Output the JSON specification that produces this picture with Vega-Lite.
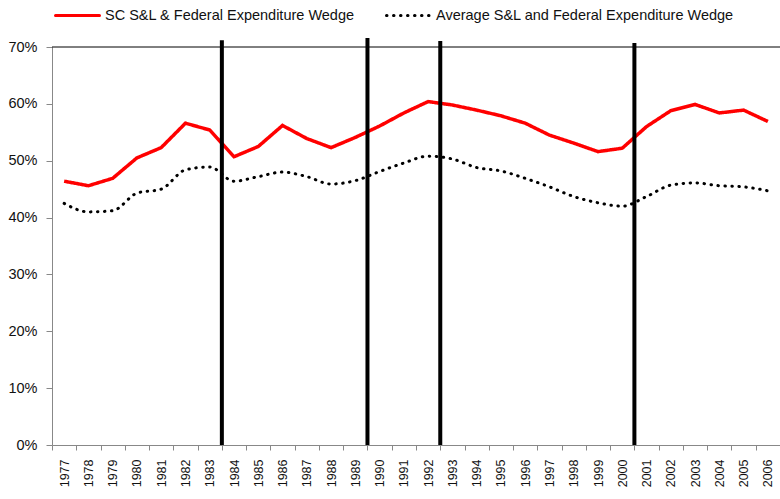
{
  "$schema": "https://vega.github.io/schema/vega-lite/v6.json",
  "width": 728,
  "height": 398,
  "autosize": {"type": "none"},
  "padding": {"left": 52, "top": 47, "right": 0, "bottom": 52},
  "background": "white",
  "config": {"view": {"stroke": null}, "font": "Liberation Sans"},
  "datasets": {
    "series": [
      {"year": "1977", "series": "SC S&L & Federal Expenditure Wedge", "value": 0.464},
      {"year": "1978", "series": "SC S&L & Federal Expenditure Wedge", "value": 0.456},
      {"year": "1979", "series": "SC S&L & Federal Expenditure Wedge", "value": 0.469},
      {"year": "1980", "series": "SC S&L & Federal Expenditure Wedge", "value": 0.505},
      {"year": "1981", "series": "SC S&L & Federal Expenditure Wedge", "value": 0.523},
      {"year": "1982", "series": "SC S&L & Federal Expenditure Wedge", "value": 0.566},
      {"year": "1983", "series": "SC S&L & Federal Expenditure Wedge", "value": 0.554},
      {"year": "1984", "series": "SC S&L & Federal Expenditure Wedge", "value": 0.507},
      {"year": "1985", "series": "SC S&L & Federal Expenditure Wedge", "value": 0.525},
      {"year": "1986", "series": "SC S&L & Federal Expenditure Wedge", "value": 0.562},
      {"year": "1987", "series": "SC S&L & Federal Expenditure Wedge", "value": 0.539},
      {"year": "1988", "series": "SC S&L & Federal Expenditure Wedge", "value": 0.523},
      {"year": "1989", "series": "SC S&L & Federal Expenditure Wedge", "value": 0.541},
      {"year": "1990", "series": "SC S&L & Federal Expenditure Wedge", "value": 0.561},
      {"year": "1991", "series": "SC S&L & Federal Expenditure Wedge", "value": 0.584},
      {"year": "1992", "series": "SC S&L & Federal Expenditure Wedge", "value": 0.604},
      {"year": "1993", "series": "SC S&L & Federal Expenditure Wedge", "value": 0.598},
      {"year": "1994", "series": "SC S&L & Federal Expenditure Wedge", "value": 0.589},
      {"year": "1995", "series": "SC S&L & Federal Expenditure Wedge", "value": 0.579},
      {"year": "1996", "series": "SC S&L & Federal Expenditure Wedge", "value": 0.566},
      {"year": "1997", "series": "SC S&L & Federal Expenditure Wedge", "value": 0.545},
      {"year": "1998", "series": "SC S&L & Federal Expenditure Wedge", "value": 0.531},
      {"year": "1999", "series": "SC S&L & Federal Expenditure Wedge", "value": 0.516},
      {"year": "2000", "series": "SC S&L & Federal Expenditure Wedge", "value": 0.522},
      {"year": "2001", "series": "SC S&L & Federal Expenditure Wedge", "value": 0.560},
      {"year": "2002", "series": "SC S&L & Federal Expenditure Wedge", "value": 0.588},
      {"year": "2003", "series": "SC S&L & Federal Expenditure Wedge", "value": 0.599},
      {"year": "2004", "series": "SC S&L & Federal Expenditure Wedge", "value": 0.584},
      {"year": "2005", "series": "SC S&L & Federal Expenditure Wedge", "value": 0.589},
      {"year": "2006", "series": "SC S&L & Federal Expenditure Wedge", "value": 0.569},
      {"year": "1977", "series": "Average S&L and Federal Expenditure Wedge", "value": 0.425},
      {"year": "1978", "series": "Average S&L and Federal Expenditure Wedge", "value": 0.410},
      {"year": "1979", "series": "Average S&L and Federal Expenditure Wedge", "value": 0.412},
      {"year": "1980", "series": "Average S&L and Federal Expenditure Wedge", "value": 0.443},
      {"year": "1981", "series": "Average S&L and Federal Expenditure Wedge", "value": 0.450},
      {"year": "1982", "series": "Average S&L and Federal Expenditure Wedge", "value": 0.484},
      {"year": "1983", "series": "Average S&L and Federal Expenditure Wedge", "value": 0.489},
      {"year": "1984", "series": "Average S&L and Federal Expenditure Wedge", "value": 0.464},
      {"year": "1985", "series": "Average S&L and Federal Expenditure Wedge", "value": 0.472},
      {"year": "1986", "series": "Average S&L and Federal Expenditure Wedge", "value": 0.480},
      {"year": "1987", "series": "Average S&L and Federal Expenditure Wedge", "value": 0.472},
      {"year": "1988", "series": "Average S&L and Federal Expenditure Wedge", "value": 0.459},
      {"year": "1989", "series": "Average S&L and Federal Expenditure Wedge", "value": 0.465},
      {"year": "1990", "series": "Average S&L and Federal Expenditure Wedge", "value": 0.481},
      {"year": "1991", "series": "Average S&L and Federal Expenditure Wedge", "value": 0.496},
      {"year": "1992", "series": "Average S&L and Federal Expenditure Wedge", "value": 0.508},
      {"year": "1993", "series": "Average S&L and Federal Expenditure Wedge", "value": 0.503},
      {"year": "1994", "series": "Average S&L and Federal Expenditure Wedge", "value": 0.488},
      {"year": "1995", "series": "Average S&L and Federal Expenditure Wedge", "value": 0.482},
      {"year": "1996", "series": "Average S&L and Federal Expenditure Wedge", "value": 0.469},
      {"year": "1997", "series": "Average S&L and Federal Expenditure Wedge", "value": 0.454},
      {"year": "1998", "series": "Average S&L and Federal Expenditure Wedge", "value": 0.437},
      {"year": "1999", "series": "Average S&L and Federal Expenditure Wedge", "value": 0.426},
      {"year": "2000", "series": "Average S&L and Federal Expenditure Wedge", "value": 0.420},
      {"year": "2001", "series": "Average S&L and Federal Expenditure Wedge", "value": 0.437},
      {"year": "2002", "series": "Average S&L and Federal Expenditure Wedge", "value": 0.457},
      {"year": "2003", "series": "Average S&L and Federal Expenditure Wedge", "value": 0.461},
      {"year": "2004", "series": "Average S&L and Federal Expenditure Wedge", "value": 0.456},
      {"year": "2005", "series": "Average S&L and Federal Expenditure Wedge", "value": 0.454},
      {"year": "2006", "series": "Average S&L and Federal Expenditure Wedge", "value": 0.447}
    ],
    "breaks": [
      {"year": "1984", "top": 0.712},
      {"year": "1990", "top": 0.716},
      {"year": "1993", "top": 0.7105},
      {"year": "2001", "top": 0.707}
    ]
  },
  "encoding": {
    "x": {
      "field": "year",
      "type": "ordinal",
      "scale": {"type": "band", "paddingInner": 0, "paddingOuter": 0},
      "axis": {
        "title": null,
        "labelAngle": -90,
        "tickBand": "extent",
        "tickSize": 5,
        "labelPadding": 9,
        "domainColor": "#888888",
        "tickColor": "#888888",
        "labelFontSize": 12.5,
        "labelColor": "#111111"
      }
    },
    "y": {
      "field": "value",
      "type": "quantitative",
      "scale": {"domain": [0, 0.7], "nice": false, "zero": true},
      "axis": {
        "title": null,
        "values": [0, 0.1, 0.2, 0.3, 0.4, 0.5, 0.6, 0.7],
        "format": ".0%",
        "grid": false,
        "tickSize": 6,
        "labelPadding": 9,
        "domainColor": "#888888",
        "tickColor": "#888888",
        "labelFontSize": 14.5,
        "labelColor": "#111111"
      }
    }
  },
  "layer": [
    {
      "data": {"values": [{"value": 0.7}]},
      "mark": {"type": "rule", "color": "black", "strokeWidth": 1},
      "encoding": {"x": null}
    },
    {
      "data": {"name": "series"},
      "transform": [{"filter": "datum.series === 'Average S&L and Federal Expenditure Wedge'"}],
      "mark": {"type": "line", "interpolate": "monotone", "strokeWidth": 3, "strokeCap": "round"},
      "encoding": {
        "color": {
          "field": "series",
          "type": "nominal",
          "scale": {
            "domain": ["SC S&L & Federal Expenditure Wedge", "Average S&L and Federal Expenditure Wedge"],
            "range": ["#ff0000", "#000000"]
          },
          "legend": {
            "orient": "none",
            "legendX": 2,
            "legendY": -55,
            "direction": "horizontal",
            "title": null,
            "symbolType": "stroke",
            "symbolSize": 1936,
            "symbolStrokeWidth": 3,
            "labelFontSize": 14.5,
            "labelOffset": 4,
            "columnPadding": 25,
            "labelLimit": 400,
            "labelColor": "#111111",
            "encode": {"symbols": {"update": {"strokeCap": {"value": "round"}}}}
          }
        },
        "strokeDash": {
          "field": "series",
          "type": "nominal",
          "scale": {
            "domain": ["SC S&L & Federal Expenditure Wedge", "Average S&L and Federal Expenditure Wedge"],
            "range": [[1, 0], [0.5, 6.5]]
          },
          "legend": {
            "orient": "none",
            "legendX": 2,
            "legendY": -55,
            "direction": "horizontal",
            "title": null,
            "symbolType": "stroke",
            "symbolSize": 1936,
            "symbolStrokeWidth": 3,
            "labelFontSize": 14.5,
            "labelOffset": 4,
            "columnPadding": 25,
            "labelLimit": 400,
            "labelColor": "#111111",
            "encode": {"symbols": {"update": {"strokeCap": {"value": "round"}}}}
          }
        }
      }
    },
    {
      "data": {"name": "series"},
      "transform": [{"filter": "datum.series === 'SC S&L & Federal Expenditure Wedge'"}],
      "mark": {"type": "line", "strokeWidth": 3.5},
      "encoding": {
        "color": {"field": "series", "type": "nominal"},
        "strokeDash": {"field": "series", "type": "nominal"}
      }
    },
    {
      "data": {"name": "breaks"},
      "mark": {"type": "rule", "color": "black", "strokeWidth": 4, "clip": false},
      "encoding": {
        "x": {"field": "year", "type": "ordinal", "bandPosition": 0},
        "y": {"field": "top", "type": "quantitative"},
        "y2": {"datum": 0}
      }
    }
  ]
}
